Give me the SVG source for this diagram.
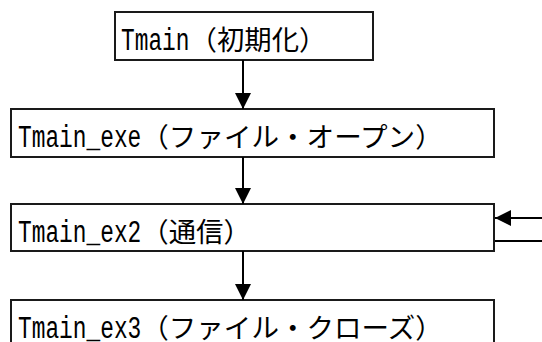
<svg xmlns="http://www.w3.org/2000/svg" width="542" height="342" viewBox="0 0 542 342">
  <style>
    .box { fill: #fff; stroke: #1a1a1a; stroke-width: 2; }
    .lbl { fill: #000; }
    .lat { font-family: "Liberation Mono", "DejaVu Sans Mono", monospace; font-size: 31px; }
    .cjk { font-family: "Noto Sans CJK JP", "Noto Sans CJK SC", sans-serif; font-size: 27px; }
    .conn { stroke: #000; stroke-width: 2; fill: none; }
  </style>
  <defs>
    <marker id="arrow" viewBox="0 0 16 16" refX="16" refY="8" markerWidth="16" markerHeight="16" markerUnits="userSpaceOnUse" orient="auto">
      <path d="M0,0 L16,8 L0,16 Z" fill="#000"/>
    </marker>
  </defs>
  <rect width="542" height="342" fill="#fff"/>

  <g id="node-init">
    <rect class="box" x="115" y="12" width="258" height="48"/>
    <text class="lbl" y="50"><tspan class="lat" x="121" textLength="68.5" lengthAdjust="spacingAndGlyphs">Tmain</tspan><tspan class="cjk" x="189.5" textLength="137" lengthAdjust="spacingAndGlyphs">（初期化）</tspan></text>
  </g>

  <g id="node-exe">
    <rect class="box" x="11" y="109" width="483" height="48"/>
    <text class="lbl" y="147"><tspan class="lat" x="18" textLength="123.3" lengthAdjust="spacingAndGlyphs">Tmain_exe</tspan><tspan class="cjk" x="141.3" textLength="301.4" lengthAdjust="spacingAndGlyphs">（ファイル・オープン）</tspan></text>
  </g>

  <g id="node-ex2">
    <rect class="box" x="11" y="204" width="483" height="47"/>
    <text class="lbl" y="242"><tspan class="lat" x="18" textLength="123.3" lengthAdjust="spacingAndGlyphs">Tmain_ex2</tspan><tspan class="cjk" x="141.3" textLength="109.6" lengthAdjust="spacingAndGlyphs">（通信）</tspan></text>
  </g>

  <g id="node-ex3">
    <rect class="box" x="11" y="300" width="483" height="60"/>
    <text class="lbl" y="338"><tspan class="lat" x="18" textLength="123.3" lengthAdjust="spacingAndGlyphs">Tmain_ex3</tspan><tspan class="cjk" x="141.3" textLength="301.4" lengthAdjust="spacingAndGlyphs">（ファイル・クローズ）</tspan></text>
  </g>

  <g id="connectors">
    <line class="conn" x1="243" y1="60" x2="243" y2="109" marker-end="url(#arrow)"/>
    <line class="conn" x1="243" y1="157" x2="243" y2="204" marker-end="url(#arrow)"/>
    <line class="conn" x1="243" y1="251" x2="243" y2="300" marker-end="url(#arrow)"/>
    <line class="conn" x1="542" y1="218" x2="495" y2="218" marker-end="url(#arrow)"/>
    <line class="conn" x1="495" y1="241" x2="542" y2="241"/>
  </g>
</svg>
